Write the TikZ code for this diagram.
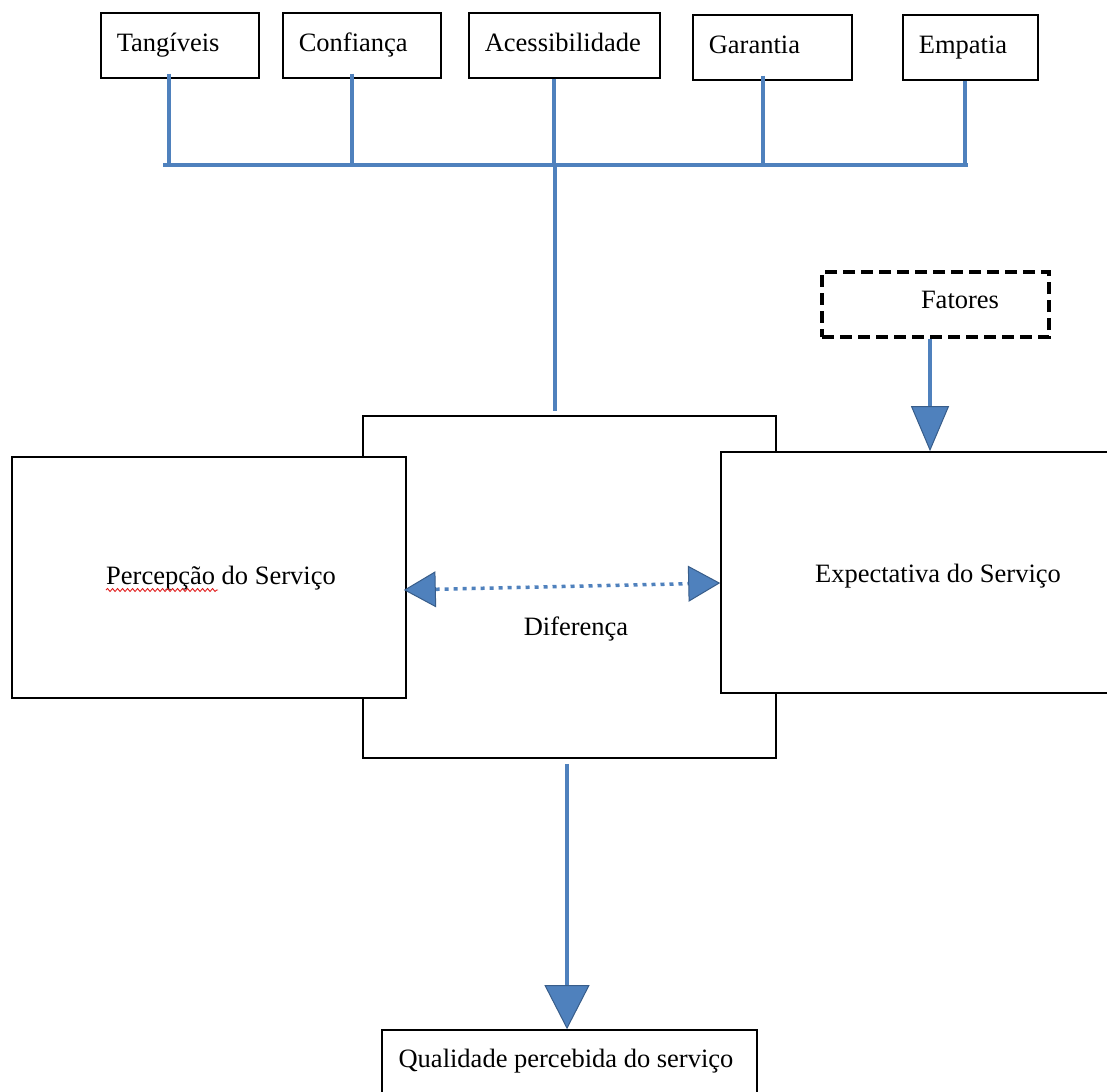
\documentclass[tikz,border=0pt]{standalone}
\usepackage{fontspec}
\setmainfont{Liberation Serif}
\usetikzlibrary{arrows.meta,decorations.pathmorphing}

\definecolor{lineblue}{RGB}{79,129,189}
\definecolor{edgeblue}{RGB}{56,93,138}
\definecolor{wavyred}{RGB}{225,30,30}

\tikzset{
  factor/.style={draw, line width=1.6pt, anchor=north west, minimum height=65pt,
    inner xsep=16pt, inner ysep=0pt, align=left, text height=18pt, text depth=6pt},
  bigbox/.style={draw, line width=1.6pt, fill=white, inner sep=0pt},
  wire/.style={draw=lineblue, line width=4pt},
  blocktip/.style 2 args={-{Triangle[width=#1,length=#2,fill=lineblue,color=edgeblue,line width=1pt]}},
  doubletip/.style 2 args={{Triangle[width=#1,length=#2,fill=lineblue,color=edgeblue,line width=1pt]}-{Triangle[width=#1,length=#2,fill=lineblue,color=edgeblue,line width=1pt]}},
}

\begin{document}
\begin{tikzpicture}[x=1pt, y=-1pt, font=\fontsize{26.5}{30}\selectfont]
    \useasboundingbox (0,0) rectangle (1107,1091);

    % Dimensions of quality
    \node[factor, text width=126pt] (tang) at (100,12) {Tangíveis};
    \node[factor, text width=126pt] (conf) at (282,12) {Confiança};
    \node[factor, text width=159pt] (aces) at (468,12) {Acessibilidade};
    \node[factor, text width=127pt] (gara) at (692,14) {Garantia};
    \node[factor, text width=103pt] (empa) at (902,14) {Empatia};

    % Bus joining the dimensions
    \coordinate (busL) at (163,165);
    \coordinate (busR) at (968,165);
    \draw[wire] (busL) -- (busR);
    \draw[wire] ([xshift=-11pt,yshift=5pt]tang.south) -- ([xshift=-11pt]tang.south |- busL);
    \draw[wire] ([xshift=-10pt,yshift=5pt]conf.south) -- ([xshift=-10pt]conf.south |- busL);
    \draw[wire] ([xshift=-10.5pt]aces.south) -- ([xshift=-10.5pt]aces.south |- busL);
    \draw[wire] ([xshift=-9.5pt,yshift=5pt]gara.south) -- ([xshift=-9.5pt]gara.south |- busL);
    \draw[wire] ([xshift=-5.5pt]empa.south) -- ([xshift=-5.5pt]empa.south |- busL);

    % Central box (behind), then perception and expectation
    \node[bigbox, minimum width=413pt, minimum height=342pt] (dif) at (569.5,587) {};
    \node[bigbox, minimum width=394pt, minimum height=241pt] (perc) at (209,577.5) {};
    \node[bigbox, minimum width=394pt, minimum height=241pt] (expe) at (918,572.5) {};

    % Factors and quality
    \node[bigbox, line width=3.5pt, dash pattern=on 12pt off 6pt,
      minimum width=227pt, minimum height=65pt] (fat) at (935.5,304.5) {};
    \node[bigbox, minimum width=375pt, minimum height=80pt] (qual) at (569.5,1070) {};

    % Texts
    \node[anchor=base] (perctext) at (221,584) {Percepção do Serviço};
    \node[anchor=base] (expetext) at (938,582) {Expectativa do Serviço};
    \node[anchor=base] (diftext) at (576,635) {Diferença};
    \node[anchor=base] (fattext) at (960,308) {Fatores};
    \node[anchor=base] (qualtext) at (566,1067) {Qualidade percebida do serviço};

    % spell check line
    \draw[wavyred, line width=0.9pt, decorate,
      decoration={snake, amplitude=1.5pt, segment length=5pt}] (106,590) -- (218,590);

    % Connectors
    \draw[wire] ([xshift=-14.5pt]dif.north |- busL) -- ([xshift=-14.5pt,yshift=4pt]dif.north);
    \draw[wire, blocktip={38pt}{45pt}] ([xshift=-5.5pt]fat.south) -- ([xshift=-5.5pt]fat.south |- expe.north);
    \draw[wire, line width=3.5pt, dash pattern=on 4pt off 5pt, doubletip={36pt}{32pt}]
      ([xshift=-3pt,yshift=-12.5pt]perc.east) -- ([yshift=-10.5pt]expe.west);
    \draw[wire, blocktip={45pt}{44pt}] ([xshift=-2.5pt,yshift=-5pt]dif.south) -- ([xshift=-2.5pt]dif.south |- qual.north);
\end{tikzpicture}
\end{document}
